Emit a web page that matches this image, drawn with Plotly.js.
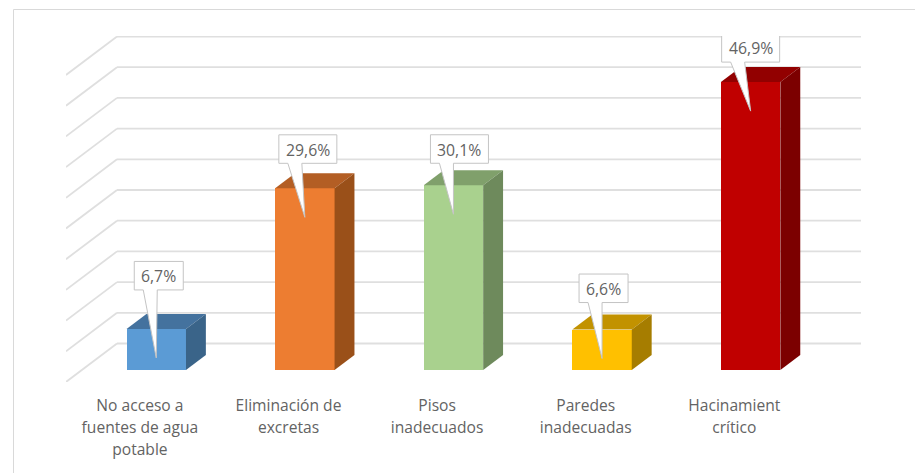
<!DOCTYPE html>
<html><head><meta charset="utf-8">
<script src="https://cdn.plot.ly/plotly-3.0.1.min.js"></script>
<style>html,body{margin:0;padding:0;background:#fff}</style></head>
<body><div id="chart" style="width:915px;height:473px"></div>
<script>
// Data
const categories = ["No acceso a<br>fuentes de agua<br>potable","Eliminación de<br>excretas","Pisos<br>inadecuados","Paredes<br>inadecuadas","Hacinamient<br>crítico"];
const values = [6.7,29.6,30.1,6.6,46.9];
const valueLabels = ["6,7%","29,6%","30,1%","6,6%","46,9%"];
const gridValues = [0,5,10,15,20,25,30,35,40,45,50];
const frontColors = ["#5B9BD5","#ED7D31","#A9D18E","#FFC000","#C00000"];
const topColors = ["#44729E","#B35E24","#80A06B","#C29200","#920000"];
const sideColors = ["#3A6489","#9A5019","#6E8A5C","#A67D00","#7C0000"];
// Callout styling (pixels)
const calloutLift = [39,25,22,27,20];
const calloutShift = [2.5,3,6,1.5,0];

// Geometry
const W=915,H=473, mL=66, mR=54, mT=36, mB=91;
const pxX=148.6, pxV=6.14;
const depthX=51/pxX, depthV=38.5/pxV;      // full floor depth in data units
const dFront=0.69, dBack=0.30;             // bar position along the floor depth
const barW=0.4;
const xRange=[(mL-156.25)/pxX,(W-mR-156.25)/pxX];
const yRange=[-depthV,-depthV+(H-mT-mB)/pxV];
const base=-dFront*depthV;
const bdx=(dFront-dBack)*depthX, bdv=(dFront-dBack)*depthV;

const traces=[];
traces.push({type:'bar',x:values.map((_,i)=>i),y:values,base:values.map(()=>base),width:barW,
  marker:{color:frontColors,line:{width:0}},hoverinfo:'skip',showlegend:false});
values.forEach((v,i)=>{
  const l=i-barW/2,r=i+barW/2,t=base+v;
  traces.push({type:'scatter',mode:'lines',fill:'toself',fillcolor:topColors[i],line:{width:0},hoverinfo:'skip',showlegend:false,
    x:[l,r,r+bdx,l+bdx,l],y:[t,t,t+bdv,t+bdv,t]});
  traces.push({type:'scatter',mode:'lines',fill:'toself',fillcolor:sideColors[i],line:{width:0},hoverinfo:'skip',showlegend:false,
    x:[r,r+bdx,r+bdx,r,r],y:[base,base+bdv,t+bdv,t,base]});
});
// callouts
const annotations=[];
values.forEach((v,i)=>{
  const t=base+v;
  const boxW=(valueLabels[i].length>4?58:49)/pxX, boxH=28.5/pxV;
  const cx=i+calloutShift[i]/pxX;
  const l=cx-boxW/2,r=cx+boxW/2,b=t+calloutLift[i]/pxV,tp=b+boxH;
  const tipY=t-29/pxV;
  const w0=l+9/pxX,w1=l+23/pxX;
  traces.push({type:'scatter',mode:'lines',fill:'toself',fillcolor:'#ffffff',line:{width:1,color:'#c4c4c4'},hoverinfo:'skip',showlegend:false,
    x:[l,w0,i,w1,r,r,l,l],y:[b,b,tipY,b,b,tp,tp,b]});
  annotations.push({x:cx,y:(b+tp)/2,xref:'x',yref:'y',text:valueLabels[i],showarrow:false,yshift:-0.5,
    font:{family:'"Open Sans",sans-serif',size:15.8,color:'#636363'}});
});
// gridlines + frame
const grid={type:'line',layer:'below',line:{color:'#dfdfdf',width:1.8}};
const shapes=[];
gridValues.forEach(g=>{
  shapes.push({...grid,xref:'x',yref:'y',x0:xRange[0],y0:g-depthV,x1:xRange[0]+depthX,y1:g});
  shapes.push({...grid,xref:'x',yref:'y',x0:xRange[0]+depthX,y0:g,x1:xRange[1],y1:g});
});
const plotW=W-mL-mR, plotH=H-mT-mB;
const fx=p=>(p-mL)/plotW, fy=p=>1-(p-mT)/plotH;
const frame={type:'line',xref:'paper',yref:'paper',layer:'below',line:{color:'#d9d9d9',width:1}};
shapes.push({...frame,x0:fx(13.5),y0:fy(9.5),x1:fx(915),y1:fy(9.5)});
shapes.push({...frame,x0:fx(13.5),y0:fy(9.5),x1:fx(13.5),y1:fy(473)});

const tickFontPx=17, labelFontPx=15.6;
const layout={width:W,height:H,margin:{l:mL,r:mR,t:mT,b:mB,pad:0},paper_bgcolor:'#fff',plot_bgcolor:'rgba(0,0,0,0)',
  showlegend:false,bargap:0,shapes,annotations,
  xaxis:{range:xRange,showgrid:false,zeroline:false,showline:false,ticks:'',tickmode:'array',
    tickvals:values.map((_,i)=>i-0.11),
    ticktext:categories.map(c=>c.split('<br>').map(s=>`<span style="font-size:${labelFontPx}px">${s}</span>`).join('<br>')),
    tickangle:0,ticklabelstandoff:11,
    tickfont:{family:'"Open Sans",sans-serif',size:tickFontPx,color:'#636363'}},
  yaxis:{range:yRange,showgrid:false,zeroline:false,showline:false,showticklabels:false,ticks:''},
};
Plotly.newPlot('chart',traces,layout,{displayModeBar:false,staticPlot:true});
</script></body></html>
